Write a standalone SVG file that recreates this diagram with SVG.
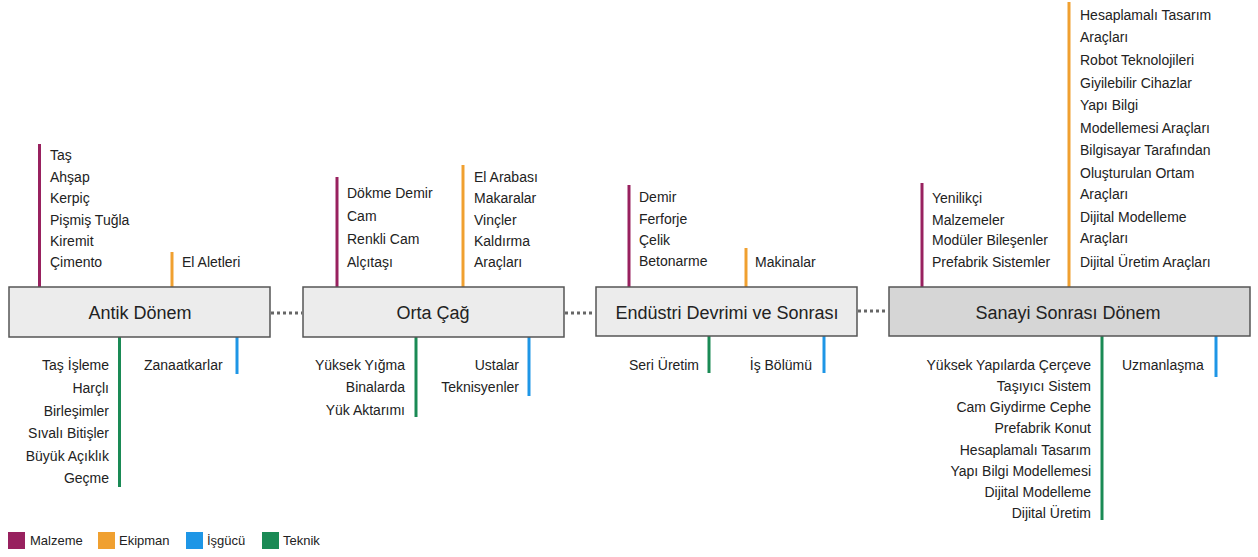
<svg xmlns="http://www.w3.org/2000/svg" width="1258" height="557" viewBox="0 0 1258 557">
<style>
text{font-family:"Liberation Sans",Arial,sans-serif;fill:#222}
.it{font-size:14px}
.r{text-anchor:end}
.tt{font-size:18px;text-anchor:middle}
.lg{font-size:13px}
.box{fill:#ececec;stroke:#555;stroke-width:1.5}
.box4{fill:#d6d6d6;stroke:#555;stroke-width:1.5}
.m{stroke:#98215f;stroke-width:3}
.o{stroke:#f0a030;stroke-width:3}
.b{stroke:#1e96e6;stroke-width:3}
.g{stroke:#1a8a55;stroke-width:3}
.dot{stroke:#666;stroke-width:3;stroke-dasharray:3 3}
</style>
<rect width="1258" height="557" fill="#fff"/>
<g id="connectors">
<line class="dot" x1="271" y1="313" x2="302" y2="313"/>
<line class="dot" x1="565" y1="313" x2="595" y2="313"/>
<line class="dot" x1="858" y1="311" x2="888" y2="311"/>
</g>
<g id="antik">
<line class="m" x1="39.5" y1="144" x2="39.5" y2="287"/>
<line class="o" x1="172" y1="252" x2="172" y2="287"/>
<line class="g" x1="119.5" y1="337" x2="119.5" y2="487"/>
<line class="b" x1="237" y1="337" x2="237" y2="374"/>
<rect class="box" x="9" y="287" width="261" height="50"/>
<text class="tt" x="140" y="319">Antik Dönem</text>
<text class="it" x="50" y="160">Taş</text>
<text class="it" x="50" y="181.5">Ahşap</text>
<text class="it" x="50" y="203">Kerpiç</text>
<text class="it" x="50" y="224.5">Pişmiş Tuğla</text>
<text class="it" x="50" y="246">Kiremit</text>
<text class="it" x="50" y="267">Çimento</text>
<text class="it" x="182" y="267">El Aletleri</text>
<text class="it r" x="109" y="370">Taş İşleme</text>
<text class="it r" x="109" y="393">Harçlı</text>
<text class="it r" x="109" y="415.5">Birleşimler</text>
<text class="it r" x="109" y="438">Sıvalı Bitişler</text>
<text class="it r" x="109" y="461">Büyük Açıklık</text>
<text class="it r" x="109" y="483">Geçme</text>
<text class="it" x="144" y="370">Zanaatkarlar</text>
</g>
<g id="orta">
<line class="m" x1="337" y1="177" x2="337" y2="287"/>
<line class="o" x1="463" y1="165" x2="463" y2="287"/>
<line class="g" x1="416" y1="337" x2="416" y2="417"/>
<line class="b" x1="529" y1="337" x2="529" y2="396"/>
<rect class="box" x="303" y="287" width="261" height="50"/>
<text class="tt" x="433" y="319">Orta Çağ</text>
<text class="it" x="347" y="198">Dökme Demir</text>
<text class="it" x="347" y="220.5">Cam</text>
<text class="it" x="347" y="244">Renkli Cam</text>
<text class="it" x="347" y="267">Alçıtaşı</text>
<text class="it" x="474" y="182">El Arabası</text>
<text class="it" x="474" y="203">Makaralar</text>
<text class="it" x="474" y="225">Vinçler</text>
<text class="it" x="474" y="246">Kaldırma</text>
<text class="it" x="474" y="267">Araçları</text>
<text class="it r" x="405" y="370">Yüksek Yığma</text>
<text class="it r" x="405" y="392">Binalarda</text>
<text class="it r" x="405" y="415">Yük Aktarımı</text>
<text class="it r" x="519" y="370">Ustalar</text>
<text class="it r" x="519" y="392">Teknisyenler</text>
</g>
<g id="endustri">
<line class="m" x1="629" y1="185" x2="629" y2="287"/>
<line class="o" x1="746" y1="248" x2="746" y2="287"/>
<line class="g" x1="709" y1="336" x2="709" y2="373"/>
<line class="b" x1="824" y1="336" x2="824" y2="373"/>
<rect class="box" x="596" y="287" width="261" height="49"/>
<text class="tt" x="727" y="319">Endüstri Devrimi ve Sonrası</text>
<text class="it" x="639" y="202">Demir</text>
<text class="it" x="639" y="224">Ferforje</text>
<text class="it" x="639" y="245">Çelik</text>
<text class="it" x="639" y="266">Betonarme</text>
<text class="it" x="755" y="267">Makinalar</text>
<text class="it r" x="699" y="370">Seri Üretim</text>
<text class="it r" x="812" y="370">İş Bölümü</text>
</g>
<g id="sanayi">
<line class="m" x1="922" y1="183" x2="922" y2="287"/>
<line class="o" x1="1069" y1="2" x2="1069" y2="287"/>
<line class="g" x1="1102" y1="336" x2="1102" y2="520"/>
<line class="b" x1="1216" y1="336" x2="1216" y2="377"/>
<rect class="box4" x="889" y="287" width="361" height="49"/>
<text class="tt" x="1068" y="319">Sanayi Sonrası Dönem</text>
<text class="it" x="932" y="203">Yenilikçi</text>
<text class="it" x="932" y="225">Malzemeler</text>
<text class="it" x="932" y="245">Modüler Bileşenler</text>
<text class="it" x="932" y="267">Prefabrik Sistemler</text>
<text class="it" x="1080" y="20">Hesaplamalı Tasarım</text>
<text class="it" x="1080" y="42">Araçları</text>
<text class="it" x="1080" y="65">Robot Teknolojileri</text>
<text class="it" x="1080" y="87.5">Giyilebilir Cihazlar</text>
<text class="it" x="1080" y="110">Yapı Bilgi</text>
<text class="it" x="1080" y="132.5">Modellemesi Araçları</text>
<text class="it" x="1080" y="155">Bilgisayar Tarafından</text>
<text class="it" x="1080" y="177.5">Oluşturulan Ortam</text>
<text class="it" x="1080" y="199">Araçları</text>
<text class="it" x="1080" y="222">Dijital Modelleme</text>
<text class="it" x="1080" y="243">Araçları</text>
<text class="it" x="1080" y="267">Dijital Üretim Araçları</text>
<text class="it r" x="1091" y="370">Yüksek Yapılarda Çerçeve</text>
<text class="it r" x="1091" y="391">Taşıyıcı Sistem</text>
<text class="it r" x="1091" y="412">Cam Giydirme Cephe</text>
<text class="it r" x="1091" y="433">Prefabrik Konut</text>
<text class="it r" x="1091" y="455">Hesaplamalı Tasarım</text>
<text class="it r" x="1091" y="476">Yapı Bilgi Modellemesi</text>
<text class="it r" x="1091" y="497">Dijital Modelleme</text>
<text class="it r" x="1091" y="518">Dijital Üretim</text>
<text class="it" x="1122" y="370">Uzmanlaşma</text>
</g>
<g id="legend">
<rect x="8" y="532" width="17" height="17" fill="#98215f"/>
<text class="lg" x="30" y="545">Malzeme</text>
<rect x="98" y="532" width="17" height="17" fill="#f0a030"/>
<text class="lg" x="119" y="545">Ekipman</text>
<rect x="186" y="532" width="17" height="17" fill="#1e96e6"/>
<text class="lg" x="207" y="545">İşgücü</text>
<rect x="262" y="532" width="17" height="17" fill="#1a8a55"/>
<text class="lg" x="283" y="545">Teknik</text>
</g>
</svg>
